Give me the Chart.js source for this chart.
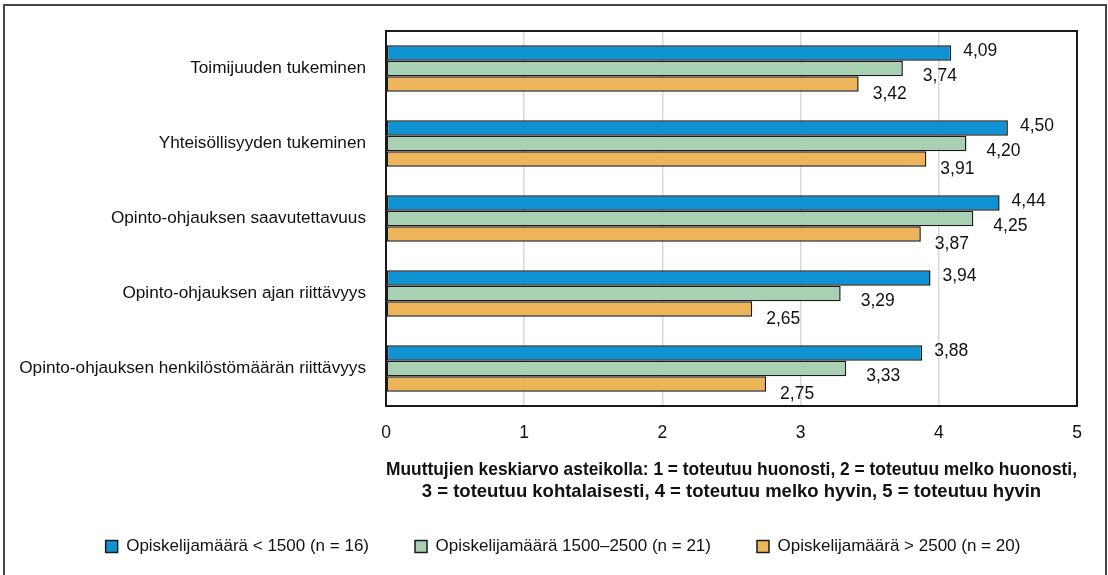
<!DOCTYPE html>
<html>
<head>
<meta charset="utf-8">
<script src="https://cdn.jsdelivr.net/npm/chart.js@4/dist/chart.umd.min.js"></script>
<style>
    html, body { margin: 0; padding: 0; background: #fff; }
    canvas { display: block; }
</style>
</head>
<body>
<canvas id="chart" width="1108" height="575"></canvas>
<script>
const CATEGORIES = [
    'Toimijuuden tukeminen',
    'Yhteisöllisyyden tukeminen',
    'Opinto-ohjauksen saavutettavuus',
    'Opinto-ohjauksen ajan riittävyys',
    'Opinto-ohjauksen henkilöstömäärän riittävyys'
];
const SERIES_NAMES = [
    'Opiskelijamäärä < 1500 (n = 16)',
    'Opiskelijamäärä 1500–2500 (n = 21)',
    'Opiskelijamäärä > 2500 (n = 20)'
];
const SMALL_VALUES = [4.09, 4.50, 4.44, 3.94, 3.88];
const MEDIUM_VALUES = [3.74, 4.20, 4.25, 3.29, 3.33];
const LARGE_VALUES = [3.42, 3.91, 3.87, 2.65, 2.75];
const X_TICKS = [0, 1, 2, 3, 4, 5];
const AXIS_TITLE = [
    'Muuttujien keskiarvo asteikolla: 1 = toteutuu huonosti, 2 = toteutuu melko huonosti,',
    '3 = toteutuu kohtalaisesti, 4 = toteutuu melko hyvin, 5 = toteutuu hyvin'
];

const COLORS = ['#0f93d2', '#a8d0b2', '#eeb45a'];
const FONT = "'Liberation Sans', Arial, sans-serif";
const TEXT = '#111';

// label nudges per series (Excel labels sit a bit below/right of the bar end)
const LABEL_SHIFT = [{dx: 12, dy: -2}, {dx: 20, dy: 8}, {dx: 14, dy: 10}];

const barLabels = {
    id: 'barLabels',
    afterDatasetsDraw(chart) {
        const ctx = chart.ctx;
        ctx.save();
        ctx.font = `17.5px ${FONT}`;
        ctx.fillStyle = TEXT;
        ctx.textAlign = 'left';
        ctx.textBaseline = 'middle';
        chart.data.datasets.forEach((ds, i) => {
            const meta = chart.getDatasetMeta(i);
            meta.data.forEach((bar, j) => {
                const txt = ds.data[j].toFixed(2).replace('.', ',');
                ctx.fillText(txt, bar.x + LABEL_SHIFT[i].dx, bar.y + LABEL_SHIFT[i].dy);
            });
        });
        ctx.restore();
    }
};

// legend in the original is centred a little right of the canvas middle
const legendShift = {
    id: 'legendShift',
    afterLayout(chart) {
        if (chart.legend) {
            chart.legend.left += 19.5;
            chart.legend.right += 19.5;
        }
    }
};

const frames = {
    id: 'frames',
    afterDraw(chart) {
        const ctx = chart.ctx;
        const a = chart.chartArea;
        ctx.save();
        ctx.strokeStyle = '#1a1a1a';
        ctx.lineWidth = 2;
        ctx.strokeRect(a.left, a.top, a.right - a.left, a.bottom - a.top);
        ctx.strokeStyle = '#444';
        ctx.lineWidth = 2;
        ctx.strokeRect(4, 5, chart.width - 6, chart.height + 10);
        ctx.restore();
    }
};

new Chart(document.getElementById('chart'), {
    type: 'bar',
    data: {
        labels: CATEGORIES,
        datasets: [SMALL_VALUES, MEDIUM_VALUES, LARGE_VALUES].map((vals, i) => ({
            label: SERIES_NAMES[i],
            data: vals,
            backgroundColor: COLORS[i],
            borderColor: '#1a1a1a',
            borderWidth: 1.5,
            borderSkipped: false,
            categoryPercentage: 0.62,
            barPercentage: 1.0
        }))
    },
    options: {
        indexAxis: 'y',
        responsive: false,
        animation: false,
        layout: { padding: { left: 10, right: 31, top: 31, bottom: 10 } },
        plugins: {
            tooltip: { enabled: false },
            legend: {
                position: 'bottom',
                labels: {
                    font: { family: FONT, size: 17 },
                    color: TEXT,
                    boxWidth: 12,
                    boxHeight: 12,
                    padding: 46,
                    generateLabels(chart) {
                        return chart.data.datasets.map((ds, i) => ({
                            text: ds.label,
                            fillStyle: ds.backgroundColor,
                            strokeStyle: '#1a1a1a',
                            lineWidth: 1.5,
                            fontColor: TEXT,
                            datasetIndex: i
                        }));
                    }
                }
            }
        },
        scales: {
            x: {
                min: 0,
                max: 5,
                afterBuildTicks(scale) {
                    scale.ticks = X_TICKS.map(v => ({ value: v }));
                },
                afterFit(scale) { scale.height = 86; },
                grid: { color: '#d9d9d9', lineWidth: 1.5, drawTicks: false },
                border: { display: false },
                ticks: {
                    font: { family: FONT, size: 17.5 },
                    color: TEXT,
                    padding: 17,
                    maxRotation: 0
                },
                title: {
                    display: true,
                    text: AXIS_TITLE,
                    color: TEXT,
                    font: { family: FONT, size: 18.5, weight: 'bold', lineHeight: '22px' },
                    padding: { top: 0, bottom: -11 }
                }
            },
            y: {
                afterFit(scale) { scale.width = 376; },
                grid: { display: false, drawTicks: false },
                border: { display: false },
                ticks: {
                    font: { family: FONT, size: 17.2 },
                    color: TEXT,
                    padding: 20
                }
            }
        }
    },
    plugins: [barLabels, legendShift, frames]
});
</script>
</body>
</html>
